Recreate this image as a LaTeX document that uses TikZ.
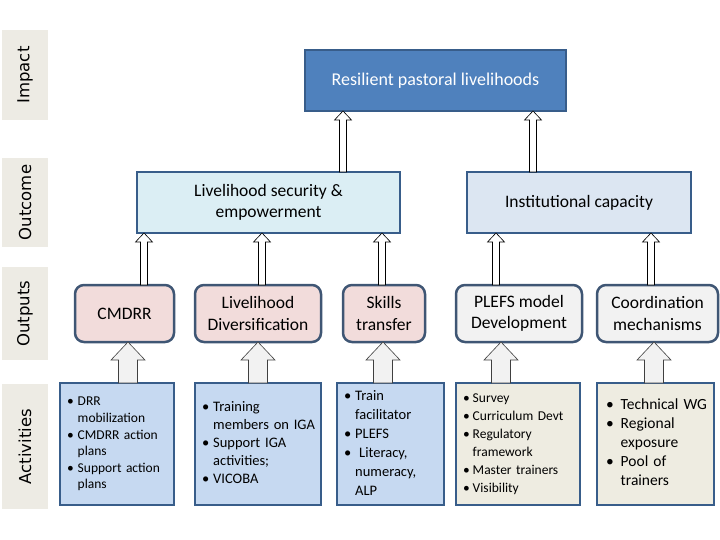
\documentclass[tikz,border=0pt]{standalone}
\usepackage{fontspec}
\setmainfont{Carlito}
\newfontfamily\labelfont{DejaVu Sans}
\usetikzlibrary{calc}

\definecolor{impactblue}{HTML}{4F81BD}
\definecolor{boxedge}{HTML}{385D8A}
\definecolor{outedge}{HTML}{3F5674}
\definecolor{securefill}{HTML}{DBEEF4}
\definecolor{instfill}{HTML}{DCE6F2}
\definecolor{pinkfill}{HTML}{F2DCDB}
\definecolor{greyfill}{HTML}{F2F2F2}
\definecolor{actblue}{HTML}{C6D9F1}
\definecolor{actbeige}{HTML}{EEECE1}
\definecolor{stripfill}{HTML}{EDEBE4}

\tikzset{
  levelstrip/.style={fill=stripfill, rotate=90, minimum height=46pt, inner sep=0pt,
    font=\labelfont\fontsize{16.5}{18}\selectfont},
  impactbox/.style={draw=boxedge, fill=impactblue, line width=2.5pt, text=white,
    outer sep=0pt, minimum width=261pt, minimum height=61pt, font=\fontsize{18}{22}\selectfont},
  outcomebox/.style={draw=boxedge, line width=2.5pt, outer sep=0pt, align=center,
    minimum height=61pt, font=\fontsize{17.5}{20.5}\selectfont},
  outputbox/.style={draw=outedge, line width=2.5pt, rounded corners=9pt, outer sep=0pt,
    align=center, minimum height=57pt, font=\fontsize{17.5}{21.5}\selectfont},
  activitybox/.style={draw=boxedge, line width=2.2pt, outer sep=0pt, inner xsep=7pt,
    minimum height=122pt, align=left},
  thinarrow/.style={draw=black, fill=white, line width=0.6pt},
  fatarrow/.style={draw=black!75, fill=greyfill, line width=0.6pt},
}

\begin{document}
\begin{tikzpicture}[x=1pt, y=-1pt]
\useasboundingbox (0,0) rectangle (720,540);

% Level strips
\node[levelstrip, minimum width=90pt] (impactstrip) at (25,75) {Impact};
\node[levelstrip, minimum width=89pt] (outcomestrip) at (25,202.5) {Outcome};
\node[levelstrip, minimum width=93pt] (outputstrip) at (25,313.5) {Outputs};
\node[levelstrip, minimum width=125pt] (activitystrip) at (25,446.5) {Activities};

% Impact
\node[impactbox] (resilient) at (435.5,80.5) {Resilient pastoral livelihoods};

% Outcomes
\node[outcomebox, fill=securefill, minimum width=263pt] (security) at (268.5,202.5)
  {Livelihood security \&\\empowerment};
\node[outcomebox, fill=instfill, minimum width=224pt] (capacity) at (579,202.5)
  {Institutional capacity};

% Outputs
\node[outputbox, fill=pinkfill, minimum width=99pt] (cmdrr) at (124.5,313.5) {CMDRR};
\node[outputbox, fill=pinkfill, minimum width=126pt] (diversify) at (258,313.5)
  {Livelihood\\Diversification};
\node[outputbox, fill=pinkfill, minimum width=82pt] (skills) at (384,313.5)
  {Skills\\transfer};
\node[outputbox, fill=greyfill, minimum width=126pt] (plefs) at (519,313.5)
  {PLEFS model\\Development};
\node[outputbox, fill=greyfill, minimum width=121pt] (coord) at (657.5,313.5)
  {Coordination\\mechanisms};

% Activities
\node[activitybox, fill=actblue, minimum width=114pt, text width=100pt,
    font=\fontsize{13.5}{16.6}\selectfont] (drracts) at (117,444)
  {\noindent\begin{tabular}{@{}l@{\hspace{4pt}}l@{}}
   \textbullet & DRR\\ & mobilization\\
   \textbullet & CMDRR action\\ & plans\\
   \textbullet & Support action\\ & plans
   \end{tabular}};
\node[activitybox, fill=actblue, minimum width=126pt, text width=112pt,
    font=\fontsize{14.5}{18}\selectfont] (igaacts) at (258,444)
  {\noindent\begin{tabular}{@{}l@{\hspace{4pt}}l@{}}
   \textbullet & Training\\ & members on IGA\\
   \textbullet & Support IGA\\ & activities;\\
   \textbullet & VICOBA
   \end{tabular}};
\node[activitybox, fill=actblue, minimum width=107pt, text width=93pt,
    font=\fontsize{14.5}{19}\selectfont] (skillacts) at (390.5,444)
  {\noindent\begin{tabular}{@{}l@{\hspace{4pt}}l@{}}
   \textbullet & Train\\ & facilitator\\
   \textbullet & PLEFS\\
   \textbullet & \hspace{4pt}Literacy,\\ & numeracy,\\ & ALP
   \end{tabular}};
\node[activitybox, fill=actbeige, minimum width=124pt, text width=110pt,
    font=\fontsize{13.5}{18}\selectfont] (plefsacts) at (518,444)
  {\noindent\begin{tabular}{@{}l@{\hspace{3pt}}l@{}}
   \textbullet & Survey\\
   \textbullet & Curriculum Devt\\
   \textbullet & Regulatory\\ & framework\\
   \textbullet & Master trainers\\
   \textbullet & Visibility
   \end{tabular}};
\node[activitybox, fill=actbeige, minimum width=117pt, text width=99pt, inner xsep=9pt,
    font=\fontsize{15.5}{19}\selectfont] (coordacts) at (655.5,444)
  {\noindent\begin{tabular}{@{}l@{\hspace{7pt}}l@{}}
   \textbullet & Technical WG\\
   \textbullet & Regional\\ & exposure\\
   \textbullet & Pool of\\ & trainers
   \end{tabular}};

% Outcome to impact
\foreach \ax/\src/\dst in {343/security/resilient, 533/capacity/resilient}
  \draw[thinarrow] let \p1=(\src.north), \p2=(\dst.south) in
    ({\ax pt-3.5pt},\y1) -- ({\ax pt-3.5pt},{\y2-9pt}) -- ({\ax pt-8.5pt},{\y2-9pt})
    -- (\ax pt,\y2) -- ({\ax pt+8.5pt},{\y2-9pt}) -- ({\ax pt+3.5pt},{\y2-9pt})
    -- ({\ax pt+3.5pt},\y1) -- cycle;

% Outputs to outcomes
\foreach \ax/\src/\dst in {144/cmdrr/security, 262/diversify/security, 382/skills/security,
    496/plefs/capacity, 651/coord/capacity}
  \draw[thinarrow] let \p1=(\src.north), \p2=(\dst.south) in
    ({\ax pt-3.5pt},\y1) -- ({\ax pt-3.5pt},{\y2-9pt}) -- ({\ax pt-8.5pt},{\y2-9pt})
    -- (\ax pt,\y2) -- ({\ax pt+8.5pt},{\y2-9pt}) -- ({\ax pt+3.5pt},{\y2-9pt})
    -- ({\ax pt+3.5pt},\y1) -- cycle;

% Activities to outputs
\foreach \ax/\src/\dst in {128/drracts/cmdrr, 258/igaacts/diversify, 383/skillacts/skills,
    501/plefsacts/plefs, 654/coordacts/coord}
  \draw[fatarrow] let \p1=(\src.north), \p2=(\dst.south) in
    ({\ax pt-9.5pt},\y1) -- ({\ax pt-9.5pt},{\y2-18pt}) -- ({\ax pt-17pt},{\y2-18pt})
    -- (\ax pt,\y2) -- ({\ax pt+17pt},{\y2-18pt}) -- ({\ax pt+9.5pt},{\y2-18pt})
    -- ({\ax pt+9.5pt},\y1) -- cycle;

\end{tikzpicture}
\end{document}
